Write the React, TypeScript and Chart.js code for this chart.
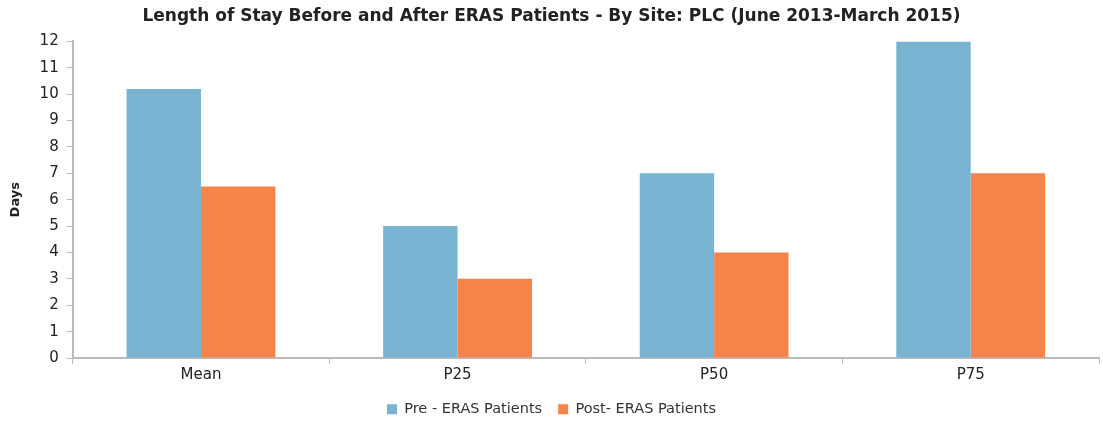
import React, { useEffect, useRef } from "react";
import { Chart, registerables } from "chart.js";

Chart.register(...registerables);

const categories = ["Mean", "P25", "P50", "P75"];
const preEras = [10.2, 5, 7, 12];
const postEras = [6.5, 3, 4, 7];
const seriesNames = ["Pre - ERAS Patients", "Post- ERAS Patients"];
const titleText = "Length of Stay Before and After ERAS Patients - By Site: PLC (June 2013-March 2015)";
const yTitle = "Days";

const FONT = "'DejaVu Sans', sans-serif";

export default function App() {
  const ref = useRef<HTMLCanvasElement | null>(null);
  useEffect(() => {
    if (!ref.current) return;
    const chart = new Chart(ref.current, {
      type: "bar",
      data: {
        labels: categories,
        datasets: [
          { label: seriesNames[0], data: preEras, backgroundColor: "#78B4D2", categoryPercentage: 0.58, barPercentage: 1 },
          { label: seriesNames[1], data: postEras, backgroundColor: "#F5844A", categoryPercentage: 0.58, barPercentage: 1 },
        ],
      },
      options: {
        animation: false,
        responsive: false,
        maintainAspectRatio: false,
        layout: { padding: { left: 4, right: 4, top: 0, bottom: 0 } },
        plugins: {
          title: {
            display: true,
            text: titleText,
            color: "#222",
            font: { family: FONT, size: 17, weight: "bold" },
            padding: { top: 6, bottom: 15 },
          },
          legend: {
            position: "bottom",
            maxHeight: 35,
            labels: {
              boxWidth: 10,
              boxHeight: 10,
              color: "#333",
              font: { family: FONT, size: 14.5 },
              padding: 16,
            },
          },
          tooltip: { enabled: false },
        },
        scales: {
          x: {
            grid: { display: true, drawOnChartArea: false, drawTicks: true, tickLength: 6, color: "#BBBBBB", offset: true },
            border: { display: true, color: "#BBBBBB", width: 2 },
            ticks: { color: "#222", font: { family: FONT, size: 15 }, padding: 2 },
          },
          y: {
            min: 0,
            max: 12,
            ticks: { stepSize: 1, color: "#222", font: { family: FONT, size: 15 }, padding: 8 },
            grid: { display: true, drawOnChartArea: false, drawTicks: true, tickLength: 6, color: "#BBBBBB" },
            border: { display: true, color: "#BBBBBB", width: 2 },
            title: { display: true, text: yTitle, color: "#222", font: { family: FONT, size: 13, weight: "bold" }, padding: { bottom: 8 } },
          },
        },
      },
    });
    return () => chart.destroy();
  }, []);
  return (
    <div style={{ position: "fixed", left: 0, top: 0, width: 1103, height: 421, background: "#fff" }}>
      <canvas ref={ref} width={1103} height={421} style={{ width: 1103, height: 421 }} />
    </div>
  );
}
